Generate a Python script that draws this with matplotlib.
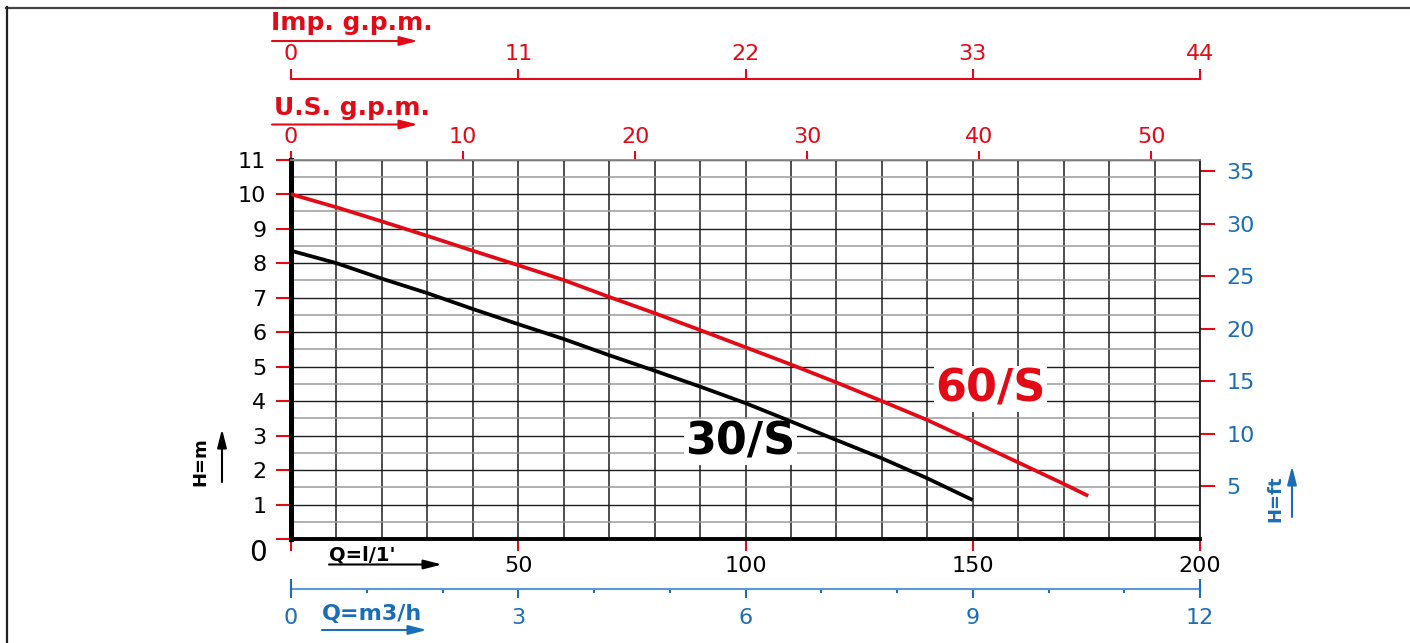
import matplotlib
matplotlib.use('Agg')
import matplotlib.pyplot as plt
from matplotlib.transforms import blended_transform_factory
import numpy as np

# ---------------- data ----------------
q_30 = [0, 10, 20, 30, 40, 50, 60, 70, 80, 90, 100, 110, 120, 130, 140, 150]
h_30 = [8.36, 8.00, 7.55, 7.13, 6.67, 6.23, 5.80, 5.33, 4.88, 4.42, 3.94, 3.41, 2.87, 2.34, 1.76, 1.13]
q_60 = [0, 10, 20, 30, 40, 50, 60, 70, 80, 90, 100, 110, 120, 130, 140, 150, 160, 170, 175.4]
h_60 = [10.0, 9.62, 9.21, 8.79, 8.36, 7.94, 7.51, 7.02, 6.55, 6.06, 5.56, 5.06, 4.54, 4.00, 3.45, 2.84, 2.22, 1.60, 1.25]

lmin_ticks = [0, 50, 100, 150, 200]
lmin_labels = ['', '50', '100', '150', '200']
hm_ticks = list(range(0, 12))
hm_labels = [''] + [str(v) for v in range(1, 12)]
hft_ticks = [5, 10, 15, 20, 25, 30, 35]
usgpm_ticks = [0, 10, 20, 30, 40, 50]
impgpm_ticks = [0, 11, 22, 33, 44]
m3h_major = [0, 3, 6, 9, 12]
m3h_minor = list(range(0, 13))

RED = '#e30a17'
BLUE = '#1b6db5'
LBLUE = '#5b9bd5'
NUM = 16

W, H = 1410, 643
fig = plt.figure(figsize=(W / 100, H / 100), dpi=100)
fig.patch.set_facecolor('white')

def fx(px):
    return px / W

def fy(py):
    return 1 - py / H

X0, X1 = 291, 1200
Y0, Y11 = 539, 159.7
ax = fig.add_axes([fx(X0), fy(Y0), (X1 - X0) / W, (Y0 - Y11) / H])
ax.set_xlim(0, 200)
ax.set_ylim(0, 11)
AXH = Y0 - Y11

# grid
ax.set_xticks(lmin_ticks)
ax.set_xticklabels(lmin_labels)
ax.set_xticks(np.arange(0, 201, 10), minor=True)
ax.set_yticks(hm_ticks)
ax.set_yticklabels(hm_labels)
ax.set_yticks(np.arange(0, 11.01, 0.5), minor=True)
ax.grid(True, which='both', axis='x', color='#1e1e1e', lw=1.1, zorder=0)
ax.grid(True, which='major', axis='y', color='#1e1e1e', lw=1.0, zorder=0)
ax.grid(True, which='minor', axis='y', color='#9a9a9a', lw=1.1, zorder=0)
ax.set_axisbelow(True)

ax.tick_params(which='minor', length=0)
ax.tick_params(axis='x', which='major', direction='out', length=8.6, width=1.5,
               color=RED, labelsize=NUM, labelcolor='black', pad=4)
ax.tick_params(axis='y', which='major', direction='out', length=10.8, width=1.5,
               color=RED, labelsize=NUM, labelcolor='black', pad=7)

ax.spines['left'].set_linewidth(3.6)
ax.spines['left'].set_color('black')
ax.spines['bottom'].set_linewidth(2.8)
ax.spines['bottom'].set_color('black')
ax.spines['right'].set_linewidth(1.3)
ax.spines['right'].set_color('#1e1e1e')
ax.spines['top'].set_linewidth(1.3)
ax.spines['top'].set_color('#8a8a8a')

# curves
ax.plot(q_30, h_30, color='black', lw=2.7, solid_capstyle='butt', zorder=3)
ax.plot(q_60, h_60, color=RED, lw=2.7, solid_capstyle='butt', zorder=3)

ax.text(98.8, 2.81, '30/S', fontsize=32, fontweight='bold', color='black',
        ha='center', va='center', zorder=2,
        bbox=dict(facecolor='white', edgecolor='none', pad=1))
ax.text(154, 4.35, '60/S', fontsize=32, fontweight='bold', color=RED,
        ha='center', va='center', zorder=2,
        bbox=dict(facecolor='white', edgecolor='none', pad=1))

# right: H in feet
secy = ax.secondary_yaxis('right', functions=(lambda m: m / 0.3048, lambda f: f * 0.3048))
secy.set_yticks(hft_ticks)
secy.tick_params(direction='out', length=10.8, width=1.5, color=RED,
                 labelsize=NUM, labelcolor=BLUE, pad=8)
secy.spines['right'].set_visible(False)

# top: US gpm
sec_us = ax.secondary_xaxis('top', functions=(lambda q: q / 3.785411784, lambda g: g * 3.785411784))
sec_us.set_xticks(usgpm_ticks)
sec_us.tick_params(direction='out', length=6.5, width=1.5, color=RED,
                   labelsize=NUM, labelcolor=RED, pad=2.5)
sec_us.spines['top'].set_visible(False)

# top: Imp gpm (chart scale: 44 Imp gpm = 200 l/min)
IMP = 200.0 / 44.0
sec_imp = ax.secondary_xaxis((Y0 - 79) / AXH, functions=(lambda q: q / IMP, lambda g: g * IMP))
sec_imp.set_xticks(impgpm_ticks)
sec_imp.tick_params(direction='out', length=7.2, width=1.5, color=RED,
                    labelsize=NUM, labelcolor=RED, pad=3.5)
sec_imp.spines['top'].set_color(RED)
sec_imp.spines['top'].set_linewidth(1.5)

# bottom: m3/h
sec_m3 = ax.secondary_xaxis(-(589 - Y0) / AXH, functions=(lambda q: q * 0.06, lambda m: m / 0.06))
sec_m3.set_xticks(m3h_major)
sec_m3.set_xticks(m3h_minor, minor=True)
sec_m3.tick_params(which='major', direction='out', length=6.2, width=1.5, color=BLUE,
                   labelsize=NUM, labelcolor=BLUE, pad=7.5)
sec_m3.tick_params(which='minor', direction='out', length=3, width=1.5, color=BLUE)
sec_m3.spines['bottom'].set_color(LBLUE)
sec_m3.spines['bottom'].set_linewidth(1.5)
tr = blended_transform_factory(ax.transData, ax.transAxes)
for qv in (0, 200):
    ax.plot([qv, qv], [-(580 - Y0) / AXH, -(589 - Y0) / AXH], transform=tr,
            color=BLUE, lw=1.5, clip_on=False)

# ---------------- overlay decorations (pixel coords) ----------------
fa = fig.add_axes([0, 0, 1, 1], zorder=5)
fa.set_xlim(0, W)
fa.set_ylim(H, 0)
fa.axis('off')
fa.patch.set_alpha(0)

fa.plot([6, W], [7.5, 7.5], color='#444444', lw=1.6)
fa.plot([6.5, 6.5], [7, H], color='#222222', lw=1.6)

def arrow(x0, y0, x1, y1, color):
    fa.annotate('', xy=(x1, y1), xytext=(x0, y0),
                arrowprops=dict(arrowstyle='-|>,head_length=1.1,head_width=0.28',
                                color=color, lw=1.5, mutation_scale=10,
                                shrinkA=0, shrinkB=0))

fa.text(271, 30, 'Imp. g.p.m.', fontsize=18, fontweight='bold', color=RED,
        ha='left', va='baseline')
arrow(272, 41, 418, 41, RED)
fa.text(274, 115, 'U.S. g.p.m.', fontsize=18, fontweight='bold', color=RED,
        ha='left', va='baseline')
arrow(272, 124.5, 418, 124.5, RED)

fa.text(258, 553, '0', fontsize=20, color='black', ha='center', va='center')
fa.text(329, 560.5, "Q=l/1'", fontsize=14, fontweight='bold', color='black',
        ha='left', va='baseline')
arrow(329, 564.5, 442, 564.5, 'black')
fa.text(322, 620, 'Q=m3/h', fontsize=16, fontweight='bold', color=BLUE,
        ha='left', va='baseline')
arrow(322, 630, 427, 630, BLUE)

fa.text(200, 462, 'H=m', fontsize=13, fontweight='bold', color='black',
        rotation=90, ha='center', va='center')
arrow(222, 482, 222, 429, 'black')
fa.text(1275, 499, 'H=ft', fontsize=13, fontweight='bold', color=BLUE,
        rotation=90, ha='center', va='center')
arrow(1292, 517, 1292, 466, BLUE)

fig.savefig('out.png', dpi=100, facecolor='white')
